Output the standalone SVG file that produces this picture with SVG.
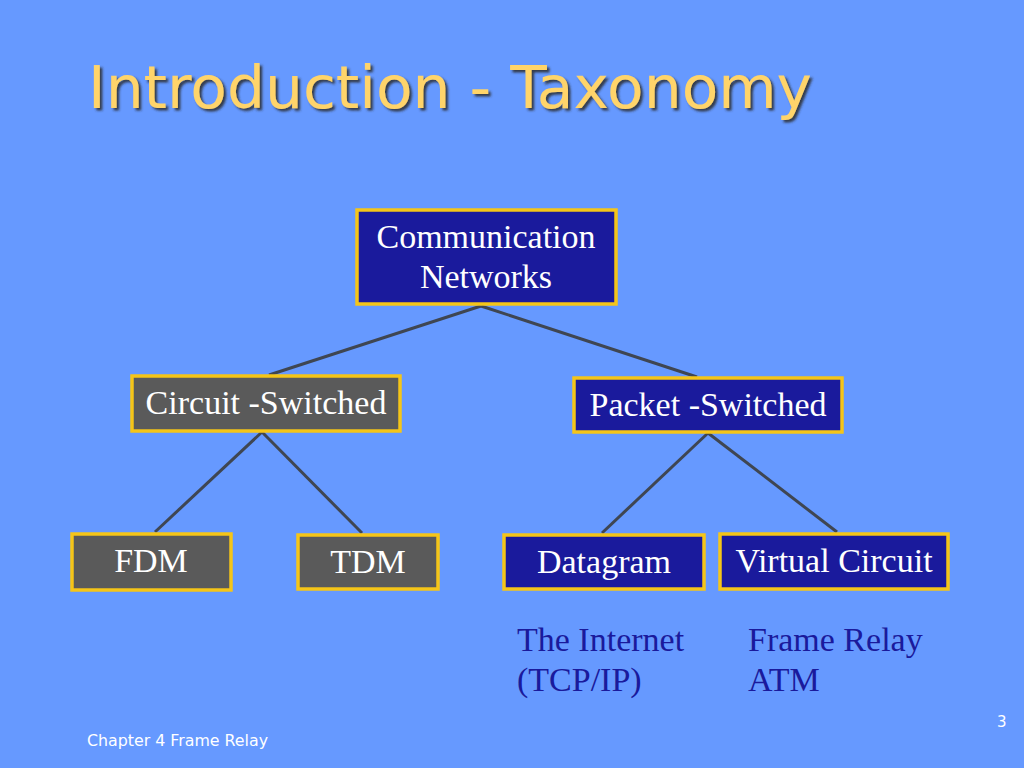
<svg xmlns="http://www.w3.org/2000/svg" width="1024" height="768" viewBox="0 0 1024 768">
<defs>
<style>
.box-blue{fill:#1A1A9C;stroke:#F5C518;stroke-width:3.5}
.box-gray{fill:#5A5A5A;stroke:#F5C518;stroke-width:3.5}
.lbl{font-family:"Liberation Serif","Times New Roman",serif;font-size:34px;fill:#FFFFFF;text-anchor:middle}
.note{font-family:"Liberation Serif","Times New Roman",serif;font-size:34px;fill:#1A1A9C}
.edge{stroke:#3F4652;stroke-width:3;fill:none}
.title{font-family:"DejaVu Sans","Noto Sans",sans-serif;font-size:58px;fill:#FFD46A}
.foot{font-family:"DejaVu Sans","Noto Sans",sans-serif;fill:#FFFFFF}
</style>
<filter id="shadow" x="-5%" y="-20%" width="110%" height="140%">
<feDropShadow dx="2.5" dy="2.5" stdDeviation="0.8" flood-color="#2A2A2A" flood-opacity="0.85"/>
</filter>
</defs>
<rect width="1024" height="768" fill="#6699FF"/>
<text class="title" x="88" y="108" textLength="724" lengthAdjust="spacingAndGlyphs" filter="url(#shadow)">Introduction - Taxonomy</text>
<g id="connectors">
<line class="edge" x1="481" y1="306" x2="269" y2="375"/>
<line class="edge" x1="481" y1="306" x2="697" y2="377"/>
<line class="edge" x1="262" y1="432" x2="155" y2="532"/>
<line class="edge" x1="262" y1="432" x2="362" y2="533"/>
<line class="edge" x1="708" y1="433" x2="602" y2="533"/>
<line class="edge" x1="708" y1="433" x2="837" y2="532"/>
</g>
<g id="node-communication">
<rect class="box-blue" x="357" y="210" width="259" height="94"/>
<text class="lbl" x="486" y="248">Communication</text>
<text class="lbl" x="486" y="288">Networks</text>
</g>
<g id="node-circuit">
<rect class="box-gray" x="132" y="376" width="268" height="55"/>
<text class="lbl" x="266" y="414">Circuit -Switched</text>
</g>
<g id="node-packet">
<rect class="box-blue" x="574" y="378" width="268" height="54"/>
<text class="lbl" x="708" y="416">Packet -Switched</text>
</g>
<g id="node-fdm">
<rect class="box-gray" x="72" y="534" width="159" height="56"/>
<text class="lbl" x="151" y="572">FDM</text>
</g>
<g id="node-tdm">
<rect class="box-gray" x="298" y="535" width="140" height="54"/>
<text class="lbl" x="368" y="573">TDM</text>
</g>
<g id="node-datagram">
<rect class="box-blue" x="504" y="535" width="200" height="54"/>
<text class="lbl" x="604" y="573">Datagram</text>
</g>
<g id="node-virtual">
<rect class="box-blue" x="720" y="534" width="228" height="55"/>
<text class="lbl" x="834" y="572">Virtual Circuit</text>
</g>
<text class="note" x="517" y="651">The Internet</text>
<text class="note" x="517" y="691">(TCP/IP)</text>
<text class="note" x="748" y="651">Frame Relay</text>
<text class="note" x="748" y="691">ATM</text>
<text class="foot" x="87" y="746" font-size="16" textLength="181" lengthAdjust="spacingAndGlyphs">Chapter 4 Frame Relay</text>
<text class="foot" x="997" y="727" font-size="15">3</text>
</svg>
